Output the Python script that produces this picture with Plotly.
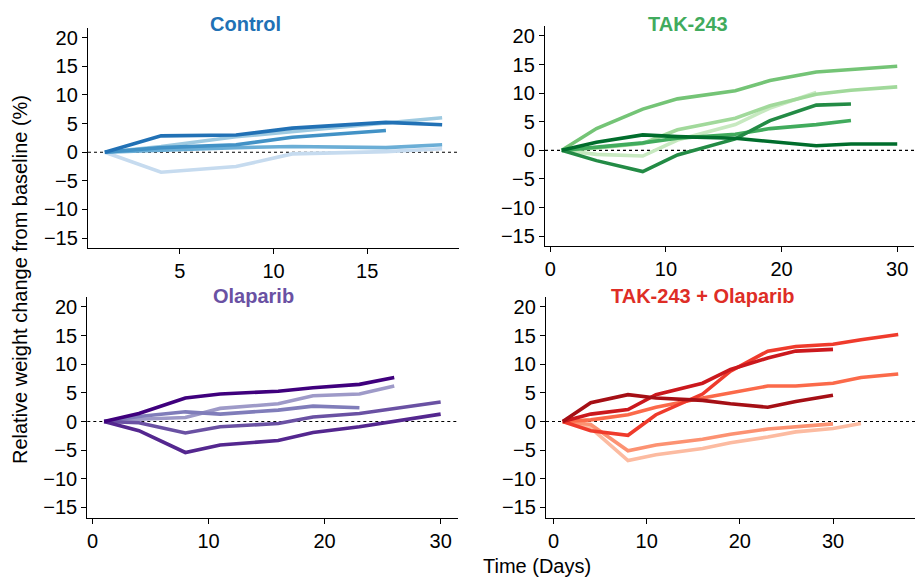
import plotly.graph_objects as go

# Measurement days for each study arm
control_days = [1, 4, 8, 11, 16, 19]
tak_days = [1, 4, 8, 11, 16, 19, 23, 26, 30]
olap_days = [1, 4, 8, 11, 16, 19, 23, 26, 30]
combo_days = [1, 4, 8, 11, 16, 19, 23, 26, 30, 33, 37]

# Per-mouse relative weight change (%) — light to dark shades
control_colors = ["#c6dbef", "#9ecae1", "#6baed6", "#4292c6", "#2171b5"]
control_mice = [
    [0, -3.5, -2.5, -0.3, 0.1, 0.6],
    [0, 1.0, 2.7, 3.6, 5.1, 6.0],
    [0, 0.4, 0.8, 1.0, 0.8, 1.3],
    [0, 0.8, 1.3, 2.6, 3.8],
    [0, 2.85, 3.0, 4.2, 5.2, 4.8],
]

tak_colors = ["#c7e9c0", "#a1d99b", "#74c476", "#41ab5d", "#238b45", "#006d2c"]
tak_mice = [
    [0, -0.7, -1.0, 1.8, 4.5, 7.4, 10.1],
    [0, 0.4, 1.2, 3.6, 5.6, 7.8, 9.8, 10.5, 11.1],
    [0, 3.8, 7.2, 9.0, 10.4, 12.2, 13.7, 14.1, 14.7],
    [0, 0.6, 1.3, 2.1, 2.8, 3.8, 4.5, 5.2],
    [0, -1.8, -3.7, -0.8, 2.0, 5.2, 7.9, 8.1],
    [0, 1.4, 2.7, 2.4, 2.1, 1.5, 0.8, 1.1, 1.1],
]

olap_colors = ["#9e9ac8", "#807dba", "#6a51a3", "#54278f", "#3f007d"]
olap_mice = [
    [0, 0.4, 0.7, 2.3, 3.1, 4.5, 4.8, 6.2],
    [0, 0.9, 1.7, 1.3, 2.0, 2.7, 2.4],
    [0, -0.2, -2.0, -0.9, -0.35, 0.8, 1.4, 2.2, 3.4],
    [0, -1.6, -5.4, -4.1, -3.3, -1.9, -0.9, 0.0, 1.3],
    [0, 1.4, 4.1, 4.8, 5.3, 5.9, 6.5, 7.7],
]

combo_colors = ["#fcbba1", "#fc9272", "#fb6a4a", "#ef3b2c", "#cb181d", "#a50f15"]
combo_mice = [
    [0, -1.1, -6.8, -5.8, -4.7, -3.7, -2.7, -1.8, -1.2, -0.35],
    [0, -0.5, -5.1, -4.1, -3.1, -2.2, -1.3, -0.9, -0.4],
    [0, 0.3, 1.2, 2.5, 4.1, 5.0, 6.2, 6.2, 6.7, 7.7, 8.3],
    [0, -1.6, -2.4, 1.2, 4.8, 8.8, 12.3, 13.1, 13.5, 14.3, 15.2],
    [0, 1.3, 2.1, 4.7, 6.7, 9.1, 11.1, 12.3, 12.6],
    [0, 3.3, 4.7, 4.1, 3.7, 3.1, 2.5, 3.5, 4.6],
]

panel_titles = ["Control", "TAK-243", "Olaparib", "TAK-243 + Olaparib"]
title_colors = ["#2171b5", "#41ab5d", "#6a51a3", "#de2d26"]
y_ticks = [-15, -10, -5, 0, 5, 10, 15, 20]

W, H = 916, 582
FONT = "Liberation Sans, Arial, Helvetica, sans-serif"

panels = [
    # (days, series, colours, x-domain px, y-domain px (top,bottom), x range, x ticks)
    (control_days, control_mice, control_colors, (88, 459), (26.7, 248), (0.1, 19.9), [5, 10, 15]),
    (tak_days, tak_mice, tak_colors, (545, 914), (25, 246), (-0.45, 31.45), [0, 10, 20, 30]),
    (olap_days, olap_mice, olap_colors, (87.3, 457.5), (297, 518.3), (-0.45, 31.45), [0, 10, 20, 30]),
    (combo_days, combo_mice, combo_colors, (546, 915), (297, 518.3), (-0.8, 38.8), [0, 10, 20, 30]),
]
title_pos = [(245, 23), (688, 23), (253, 296), (703, 296)]

fig = go.Figure()
layout = dict(
    width=W, height=H,
    margin=dict(l=0, r=0, t=0, b=0),
    paper_bgcolor="white", plot_bgcolor="white",
    showlegend=False,
    font=dict(family=FONT, size=20, color="black"),
    shapes=[], annotations=[],
)

for i, (days, mice, colors, xd, yd, xr, xt) in enumerate(panels):
    n = i + 1
    xa = "x" if n == 1 else f"x{n}"
    ya = "y" if n == 1 else f"y{n}"
    for vals, col in zip(mice, colors):
        fig.add_trace(go.Scatter(
            x=days[:len(vals)], y=vals, mode="lines",
            line=dict(color=col, width=3.6),
            xaxis=xa, yaxis=ya, hoverinfo="skip",
        ))
    axis_common = dict(
        showline=True, linecolor="black", linewidth=1.3,
        ticks="outside", ticklen=5, tickwidth=1.3, tickcolor="black",
        showgrid=False, zeroline=False,
        tickfont=dict(family=FONT, size=20, color="black"),
    )
    layout["xaxis" if n == 1 else f"xaxis{n}"] = dict(
        domain=[xd[0] / W, xd[1] / W], anchor=ya, range=list(xr),
        tickvals=xt, **axis_common,
    )
    layout["yaxis" if n == 1 else f"yaxis{n}"] = dict(
        domain=[1 - yd[1] / H, 1 - yd[0] / H], anchor=xa, range=[-16.75, 21.75],
        tickvals=y_ticks, **axis_common,
    )
    # dotted baseline at 0 %
    layout["shapes"].append(dict(
        type="line", xref=f"{xa} domain", yref=ya, x0=0, x1=1, y0=0, y1=0,
        line=dict(color="black", width=1.1, dash="dot"), layer="below",
    ))
    tx, ty = title_pos[i]
    layout["annotations"].append(dict(
        text=f"<b>{panel_titles[i]}</b>", x=tx / W, y=1 - ty / H,
        xref="paper", yref="paper", showarrow=False,
        xanchor="center", yanchor="middle",
        font=dict(family=FONT, size=20, color=title_colors[i]),
    ))

layout["annotations"].append(dict(
    text="Relative weight change from baseline (%)", textangle=-90,
    x=20 / W, y=1 - 280 / H, xref="paper", yref="paper", showarrow=False,
    xanchor="center", yanchor="middle", font=dict(family=FONT, size=20, color="black"),
))
layout["annotations"].append(dict(
    text="Time (Days)", x=537 / W, y=1 - 567 / H, xref="paper", yref="paper",
    showarrow=False, xanchor="center", yanchor="middle",
    font=dict(family=FONT, size=20, color="black"),
))

fig.update_layout(**layout)
fig.write_html("out.html")
